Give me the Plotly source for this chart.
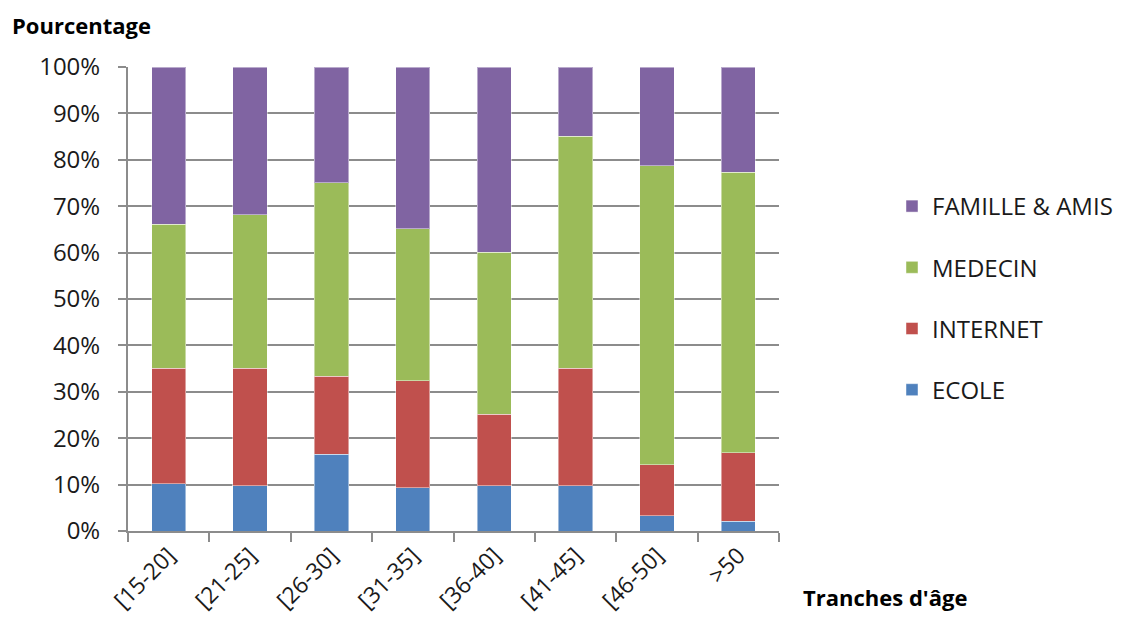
import plotly.graph_objects as go

categories = ["[15-20]", "[21-25]", "[26-30]", "[31-35]", "[36-40]", "[41-45]", "[46-50]", ">50"]
ecole = [10.2, 9.8, 16.5, 9.3, 9.7, 9.7, 3.3, 2.1]
internet = [24.9, 25.3, 16.8, 23.1, 15.5, 25.4, 11.0, 14.8]
medecin = [31.0, 33.1, 41.8, 32.7, 34.9, 50.0, 64.4, 60.4]
famille = [33.9, 31.8, 24.9, 34.9, 39.9, 14.9, 21.3, 22.7]
y_ticks = [0, 10, 20, 30, 40, 50, 60, 70, 80, 90, 100]
y_labels = [f"{v}%" for v in y_ticks]

series = [
    ("ECOLE", ecole, "#4F81BD", 4),
    ("INTERNET", internet, "#C0504D", 3),
    ("MEDECIN", medecin, "#9BBB59", 2),
    ("FAMILLE & AMIS", famille, "#8064A2", 1),
]

fig = go.Figure()
for name, vals, col, rank in series:
    fig.add_trace(go.Bar(
        x=categories, y=vals, name=name, legendgroup=name, legendrank=rank,
        marker=dict(color=col, line=dict(color="rgba(255,255,255,0.45)", width=1)),
    ))

L, R, T, B = 128, 345, 67, 97
W, H = 1124, 628
pw, ph = W - L - R, H - T - B

fig.update_layout(
    width=W, height=H,
    margin=dict(l=L, r=R, t=T, b=B),
    barmode="stack", bargap=0.58,
    plot_bgcolor="white", paper_bgcolor="white",
    font=dict(family="Open Sans", size=24, color="#1a1a1a"),
    showlegend=True,
    legend=dict(
        traceorder="grouped", xref="container", yref="container",
        x=892 / W, y=1 - 298 / H, xanchor="left", yanchor="middle",
        font=dict(family="Open Sans", size=24, color="#1a1a1a"),
        tracegroupgap=27, itemwidth=30,
    ),
    xaxis=dict(
        type="category", tickangle=-45, tickson="boundaries",
        ticks="outside", ticklen=9, tickwidth=2, tickcolor="#8c8c8c",
        showline=True, linecolor="#8c8c8c", linewidth=2,
        tickfont=dict(family="Open Sans", size=23, color="#1a1a1a"),
        showgrid=False,
    ),
    yaxis=dict(
        range=[0, 100], tickvals=y_ticks, ticktext=y_labels,
        ticks="outside", ticklen=8, tickwidth=2, tickcolor="#8c8c8c",
        showline=True, linecolor="#8c8c8c", linewidth=2,
        showgrid=True, gridcolor="#8c8c8c", gridwidth=2,
        tickfont=dict(family="Open Sans", size=24, color="#1a1a1a"),
        ticklabelstandoff=13, zeroline=False,
    ),
    annotations=[
        dict(text="<b>Pourcentage</b>", xref="paper", yref="paper",
             x=(10 - L) / pw, y=(H - B - 25) / ph, xanchor="left", yanchor="middle",
             showarrow=False, font=dict(family="Open Sans", size=22, color="#000")),
        dict(text="<b>Tranches d'âge</b>", xref="paper", yref="paper",
             x=(801 - L) / pw, y=(H - B - 597) / ph, xanchor="left", yanchor="middle",
             showarrow=False, font=dict(family="Open Sans", size=22, color="#000")),
    ],
)

fig.write_html("out.html")
